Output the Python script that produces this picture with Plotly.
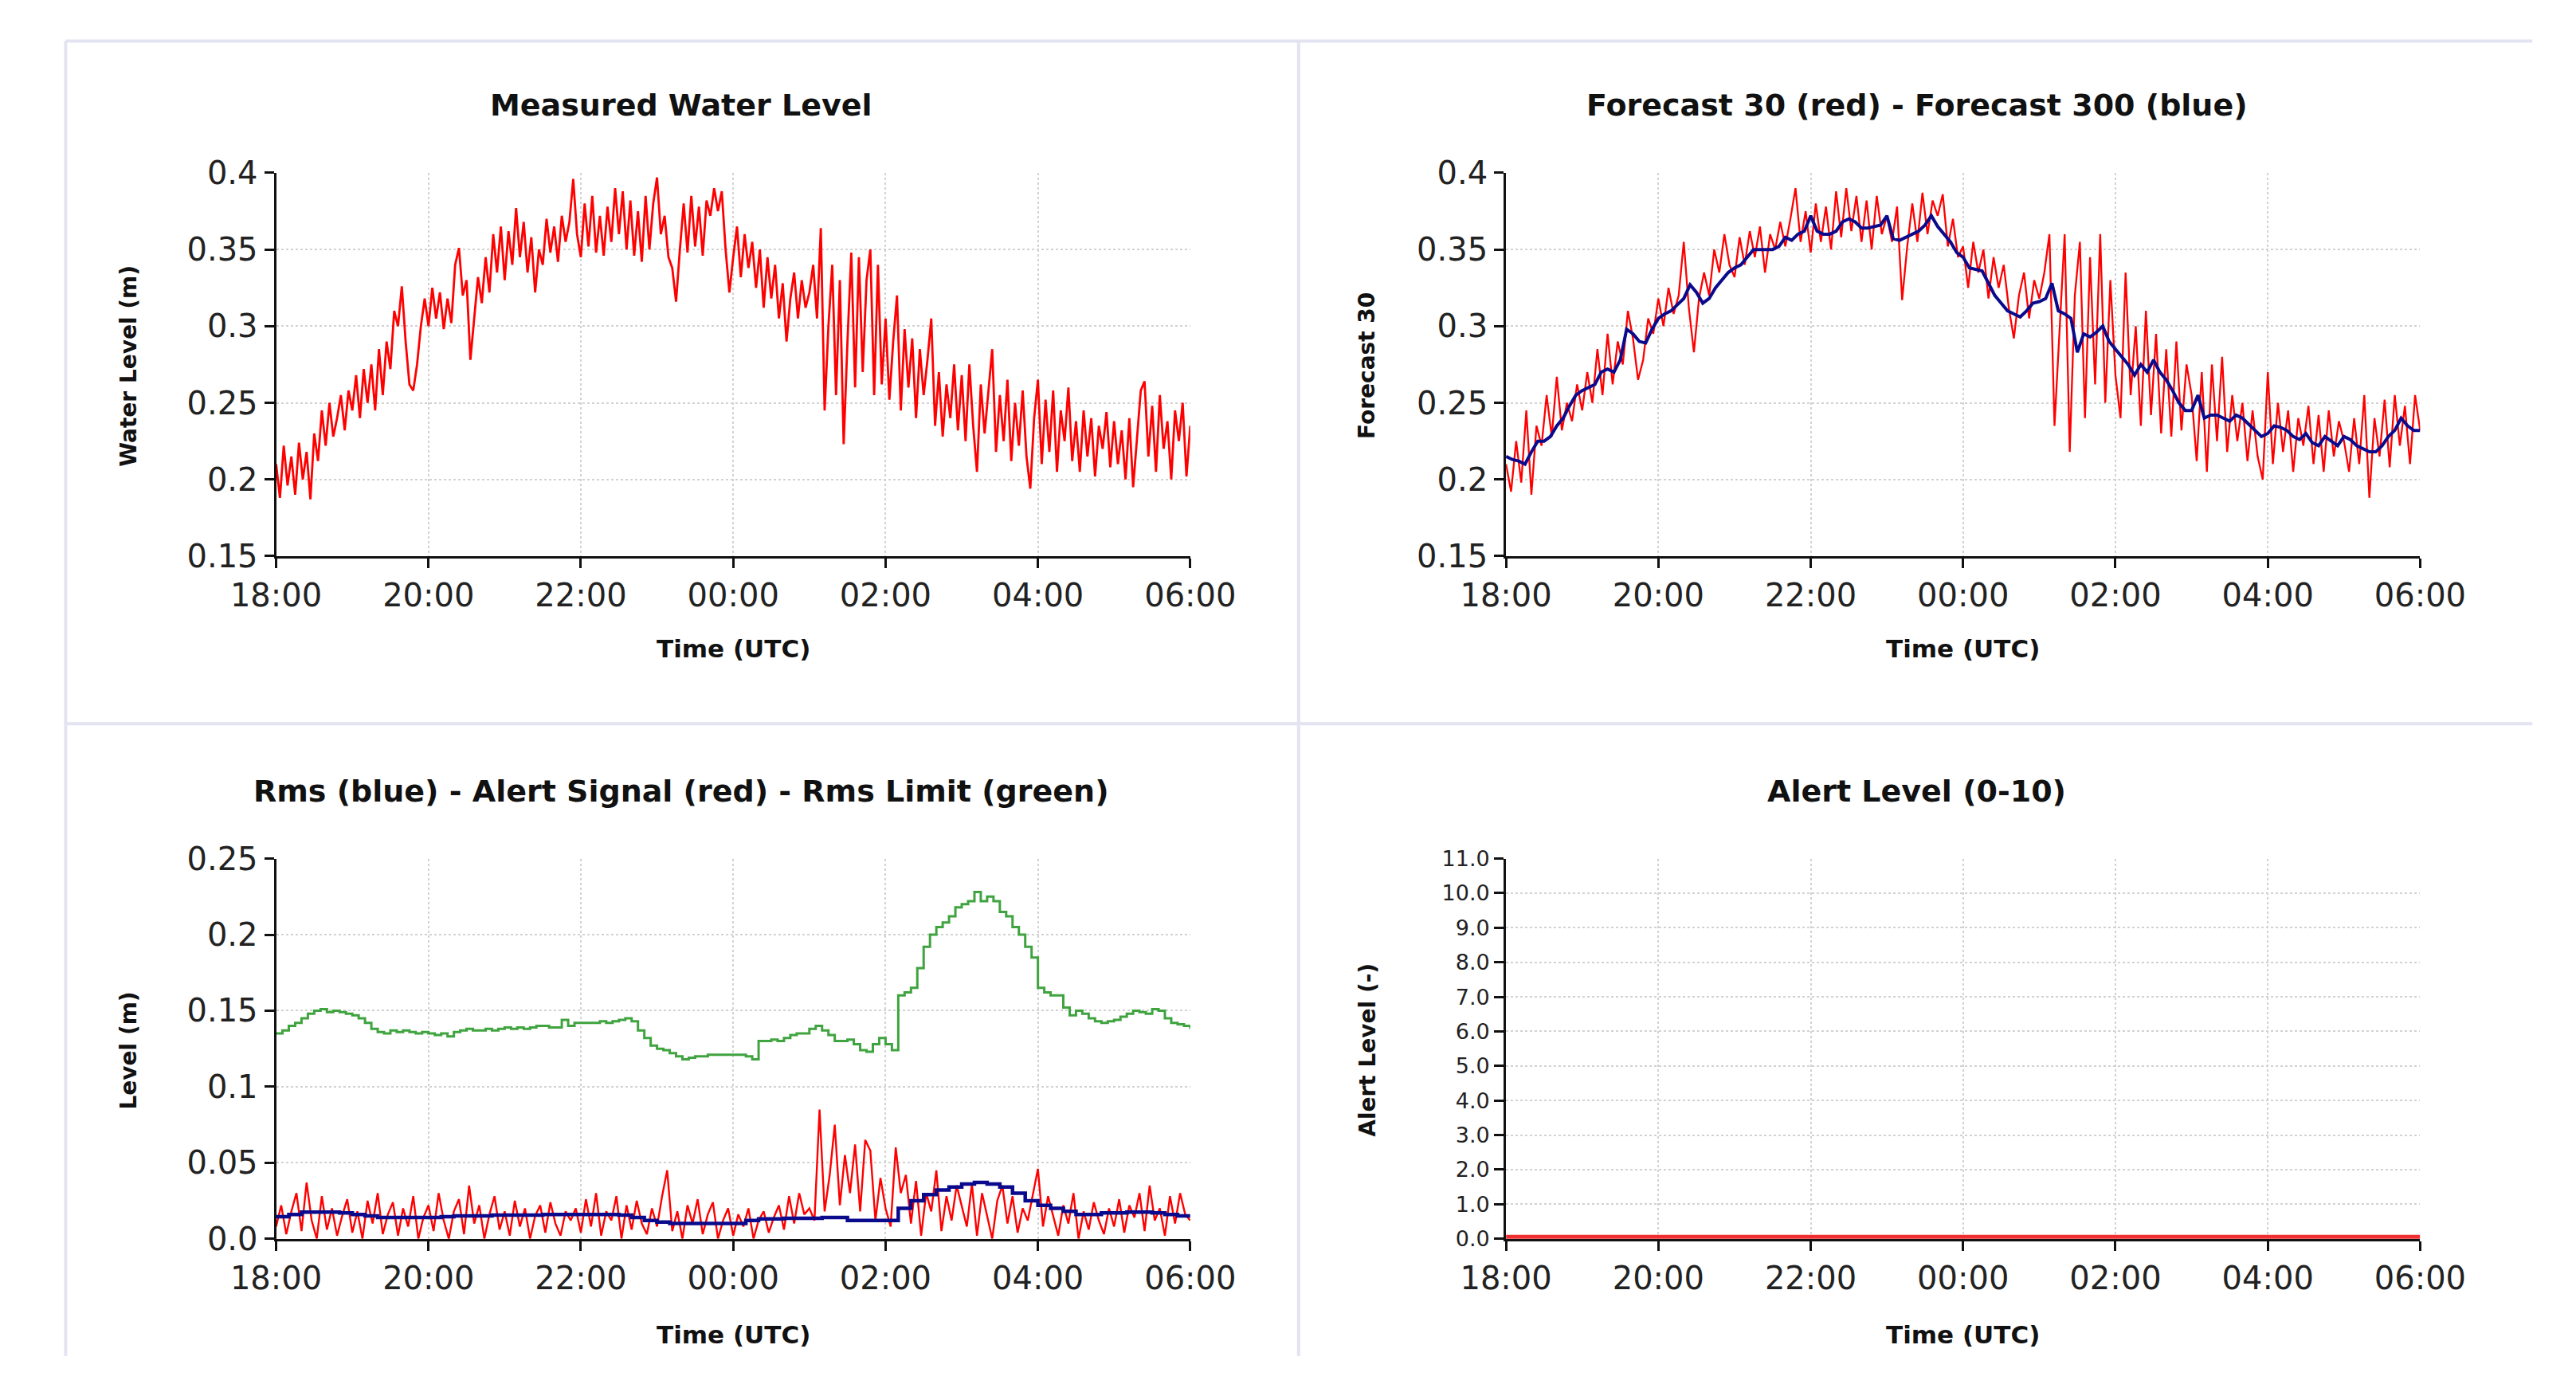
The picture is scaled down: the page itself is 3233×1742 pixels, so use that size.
import pandas as pd
import plotly.graph_objects as go

# ---------------- data ----------------
T0, T1 = "2000-01-01 18:00", "2000-01-02 06:00"

# Measured water level, mm, every 3 minutes 18:00 -> 06:00
measured_mm = [
    210,188,222,196,215,190,224,200,218,187, 230,212,245,222,250,228,240,255,232,258,
    245,268,240,272,250,275,245,285,255,290, 272,310,300,326,290,262,258,275,300,318,
    300,325,305,322,298,318,302,340,351,320, 330,278,305,332,315,345,322,360,335,365,
    330,362,340,377,345,368,335,358,322,350, 340,370,348,365,342,372,355,368,396,360,
    345,380,352,385,348,372,346,378,355,390, 360,388,350,382,346,375,342,385,350,380,
    397,360,372,345,338,316,350,380,348,385, 352,378,346,382,372,390,375,388,350,322,
    345,365,332,360,338,355,325,350,312,345, 318,340,305,328,290,318,335,305,330,312,
    322,340,305,364,245,300,340,255,330,223, 290,348,260,345,270,330,350,255,340,262,
    305,252,290,320,245,298,260,292,240,285, 255,278,305,235,270,228,262,240,275,232,
    268,225,275,235,205,262,230,258,285,218, 255,225,265,212,250,222,258,215,194,240,
    265,210,252,218,258,205,245,225,260,212, 238,205,245,215,240,202,235,220,244,208,
    238,210,232,200,240,195,228,258,264,215, 248,205,255,220,238,200,245,225,250,202,
    235,
]

# Forecast 30 (red), mm, every 4 minutes
forecast30_mm = [
    210,192,225,198,245,190,235,222,255,228,267,232,250,238,262,
    245,270,250,285,255,295,262,290,275,310,292,265,278,305,295,
    318,300,325,308,320,355,312,283,318,335,320,350,335,360,340,
    332,358,340,362,345,365,335,360,350,368,352,370,390,355,375,
    348,380,355,378,350,388,358,390,362,385,355,382,350,385,360,
    372,355,378,317,352,380,355,387,360,382,372,386,352,370,345,
    352,325,355,335,350,318,345,325,340,312,292,320,335,305,330,
    318,335,360,235,300,360,218,320,355,240,345,262,360,250,330,
    268,240,335,255,300,235,310,242,295,230,285,228,290,232,275,
    255,212,270,205,275,225,280,218,255,225,250,212,245,215,200,
    270,210,250,218,245,205,240,222,248,210,242,205,245,215,238,
    225,205,240,210,255,188,240,215,252,208,255,222,248,210,255,
    232,
]

# Forecast 300 (blue), mm, every 5 minutes
forecast300_mm = [
    215,213,212,210,218,225,225,228,235,240,248,255,
    258,260,262,270,272,270,278,298,295,290,289,298,
    305,308,310,314,318,327,322,315,318,325,330,335,
    338,340,345,350,350,350,350,352,358,356,360,362,
    372,362,360,360,362,368,370,368,364,364,365,366,
    372,357,356,358,360,362,366,372,365,360,355,348,
    345,338,337,336,328,320,315,310,308,306,310,315,
    316,318,328,310,308,305,283,295,293,296,300,290,
    285,280,275,268,275,270,278,270,265,258,250,245,
    245,255,240,242,242,240,238,242,240,236,232,228,
    230,235,234,232,228,226,230,224,222,228,225,222,
    228,226,222,220,218,218,222,228,232,240,235,232,
    232,
]

# Rms limit (green), mm, every 5 minutes
rms_limit_mm = [
    135,137,140,142,145,148,150,151,149,150,149,148,
    147,145,142,138,136,135,137,136,137,136,135,136,
    135,134,135,133,136,137,138,137,137,138,137,138,
    139,138,139,138,139,140,140,139,139,144,140,142,
    142,142,142,143,142,143,144,145,143,137,132,127,
    125,124,122,120,118,119,120,120,121,121,121,121,
    121,121,120,118,130,130,131,130,132,134,135,135,
    138,140,137,134,130,130,131,128,124,123,128,132,
    128,124,160,162,165,178,192,200,205,208,212,218,
    220,222,228,222,225,222,215,212,205,200,192,185,
    165,162,160,160,152,147,150,148,145,143,142,143,
    144,146,148,150,149,148,151,150,145,142,141,140,
    138,
]

# Rms (blue), mm, every 10 minutes
rms_mm = [
    14.5,16,17.5,17.5,17.5,17,
    16,15,14,14,14,14,
    14,14.5,15,15,15,15.5,
    15.5,15.5,15.5,16,16,16,
    16,16,16,15.5,14,12,
    11,10,10,10,10,10,
    10,12,13,13,13.5,13.5,
    13.5,14,14,12,12,12,
    12,20,25,29,32,34,
    36,37,36,34,30,25,
    22,20,18,16,16,17,
    17,17.5,17.5,17,16,15,
    15,
]

# Alert signal (red), mm, every 4 minutes
alert_signal_mm = [
    8,22,3,18,30,5,37,12,0,28,6,20,2,15,26,
    4,18,0,25,10,30,3,16,24,2,20,8,28,0,14,
    22,5,30,12,0,18,26,3,35,10,22,0,16,28,6,
    18,2,25,8,20,0,15,22,4,24,10,2,18,12,20,
    4,26,8,30,2,18,12,28,0,22,6,25,10,3,20,
    8,28,45,5,18,0,22,10,26,3,16,24,0,12,20,
    2,16,8,20,0,12,18,4,14,22,6,28,10,30,16,
    20,12,85,18,42,75,22,55,30,62,18,65,58,12,40,
    20,8,60,30,42,10,38,2,30,18,45,5,28,12,35,
    22,8,36,2,30,15,0,25,35,10,28,4,20,12,30,
    46,8,28,15,2,22,10,30,0,18,6,24,12,3,20,
    8,26,4,22,14,30,5,35,12,20,2,28,10,30,16,
    12,
]

# Alert level (0-10), hourly
alert_level = [0, 0, 0, 0, 0, 0, 0, 0, 0, 0, 0, 0, 0]

# tick labels
wl_ticks = [0.15, 0.2, 0.25, 0.3, 0.35, 0.4]
wl_ticktext = ["0.15", "0.2", "0.25", "0.3", "0.35", "0.4"]
rms_ticks = [0.0, 0.05, 0.1, 0.15, 0.2, 0.25]
rms_ticktext = ["0.0", "0.05", "0.1", "0.15", "0.2", "0.25"]
al_ticks = list(range(0, 12))
al_ticktext = ["%.1f" % v for v in al_ticks]

titles = ["Measured Water Level", "Forecast 30 (red) - Forecast 300 (blue)",
          "Rms (blue) - Alert Signal (red) - Rms Limit (green)", "Alert Level (0-10)"]
ytitles = ["Water Level (m)", "Forecast 30", "Level (m)", "Alert Level (-)"]
xtitle = "Time (UTC)"

# ---------------- helpers ----------------
def times(n):
    return pd.date_range(T0, T1, periods=n)

def m(vals):
    return [v / 1000.0 for v in vals]

W, H = 3233, 1742
def px(x):
    return x / W
def py(y):
    return 1 - y / H

RED = "#ff0000"
NAVY = "#0a0a8c"
GREEN = "#3fa33f"

fig = go.Figure()
fig.add_trace(go.Scatter(x=times(len(measured_mm)), y=m(measured_mm), mode="lines",
                         line=dict(color=RED, width=2.8), xaxis="x", yaxis="y"))
fig.add_trace(go.Scatter(x=times(len(forecast30_mm)), y=m(forecast30_mm), mode="lines",
                         line=dict(color=RED, width=2.3), xaxis="x2", yaxis="y2"))
fig.add_trace(go.Scatter(x=times(len(forecast300_mm)), y=m(forecast300_mm), mode="lines",
                         line=dict(color=NAVY, width=4), xaxis="x2", yaxis="y2"))
fig.add_trace(go.Scatter(x=times(len(rms_limit_mm)), y=m(rms_limit_mm), mode="lines",
                         line=dict(color=GREEN, width=3, shape="hv"), xaxis="x3", yaxis="y3"))
fig.add_trace(go.Scatter(x=times(len(alert_signal_mm)), y=m(alert_signal_mm), mode="lines",
                         line=dict(color=RED, width=2.4), xaxis="x3", yaxis="y3"))
fig.add_trace(go.Scatter(x=times(len(rms_mm)), y=m(rms_mm), mode="lines",
                         line=dict(color=NAVY, width=4.5, shape="hv"), xaxis="x3", yaxis="y3"))
fig.add_trace(go.Scatter(x=times(len(alert_level)), y=alert_level, mode="lines",
                         line=dict(color="#f03030", width=10), xaxis="x4", yaxis="y4"))

FONT = "DejaVu Sans"
xl, xr = [px(291), px(1481)], [px(1892), px(3082)]
yt, yb = [py(685), py(191)], [py(1565), py(1075)]

def xax(domain, anchor):
    return dict(type="date", range=[T0, T1], domain=domain, anchor=anchor,
                tickformat="%H:%M", dtick=7200000, tick0=T0,
                showgrid=True, gridcolor="#d2d2d2", griddash="dot", gridwidth=2,
                showline=True, linecolor="#111111", linewidth=3, mirror=False,
                ticks="outside", ticklen=12, tickwidth=3, tickcolor="#111111",
                tickfont=dict(family=FONT, size=40, color="#222222"),
                zeroline=False, fixedrange=True)

def yax(domain, anchor, rng, tv, tt, size=40):
    return dict(range=rng, domain=domain, anchor=anchor, tickvals=tv, ticktext=tt,
                showgrid=True, gridcolor="#d2d2d2", griddash="dot", gridwidth=2,
                showline=True, linecolor="#111111", linewidth=3, mirror=False,
                ticks="outside", ticklen=12, tickwidth=3, tickcolor="#111111",
                tickfont=dict(family=FONT, size=size, color="#222222"),
                zeroline=False, fixedrange=True)

fig.update_layout(
    width=W, height=H, margin=dict(l=0, r=0, t=0, b=0),
    paper_bgcolor="white", plot_bgcolor="white", showlegend=False,
    xaxis=xax(xl, "y"), yaxis=yax(yt, "x", [0.15, 0.4], wl_ticks, wl_ticktext),
    xaxis2=xax(xr, "y2"), yaxis2=yax(yt, "x2", [0.15, 0.4], wl_ticks, wl_ticktext),
    xaxis3=xax(xl, "y3"), yaxis3=yax(yb, "x3", [0, 0.25], rms_ticks, rms_ticktext),
    xaxis4=xax(xr, "y4"), yaxis4=yax(yb, "x4", [0, 11], al_ticks, al_ticktext, size=27),
)

ann = []
tpos = [(818, 104), (2427, 104), (818, 988), (2427, 988)]
for (x, y), t in zip(tpos, titles):
    ann.append(dict(text="<b>%s</b>" % t, x=px(x), y=py(y), xref="paper", yref="paper",
                    showarrow=False, xanchor="center", yanchor="middle",
                    font=dict(family=FONT, size=38, color="#111111")))
xtpos = [(886, 804), (2487, 804), (886, 1689), (2487, 1689)]
for (x, y) in xtpos:
    ann.append(dict(text="<b>%s</b>" % xtitle, x=px(x), y=py(y), xref="paper", yref="paper",
                    showarrow=False, xanchor="center", yanchor="middle",
                    font=dict(family=FONT, size=31, color="#111111")))
ytpos = [(99, 440), (1711, 440), (99, 1322), (1711, 1322)]
for (x, y), t in zip(ytpos, ytitles):
    ann.append(dict(text="<b>%s</b>" % t, x=px(x), y=py(y), xref="paper", yref="paper",
                    showarrow=False, xanchor="center", yanchor="middle", textangle=-90,
                    font=dict(family=FONT, size=28, color="#111111")))
fig.update_layout(annotations=ann)

BORDER = "#e3e3f1"
shapes = [
    dict(type="line", xref="paper", yref="paper", x0=px(17), x1=px(3228), y0=py(21), y1=py(21)),
    dict(type="line", xref="paper", yref="paper", x0=px(17), x1=px(3228), y0=py(901), y1=py(901)),
    dict(type="line", xref="paper", yref="paper", x0=px(1622), x1=px(1622), y0=py(21), y1=py(1716)),
    dict(type="line", xref="paper", yref="paper", x0=px(17), x1=px(17), y0=py(21), y1=py(1716)),
]
for s in shapes:
    s["line"] = dict(color=BORDER, width=4)
    s["layer"] = "below"
fig.update_layout(shapes=shapes)

fig.write_html("out.html", config={"displayModeBar": False})
